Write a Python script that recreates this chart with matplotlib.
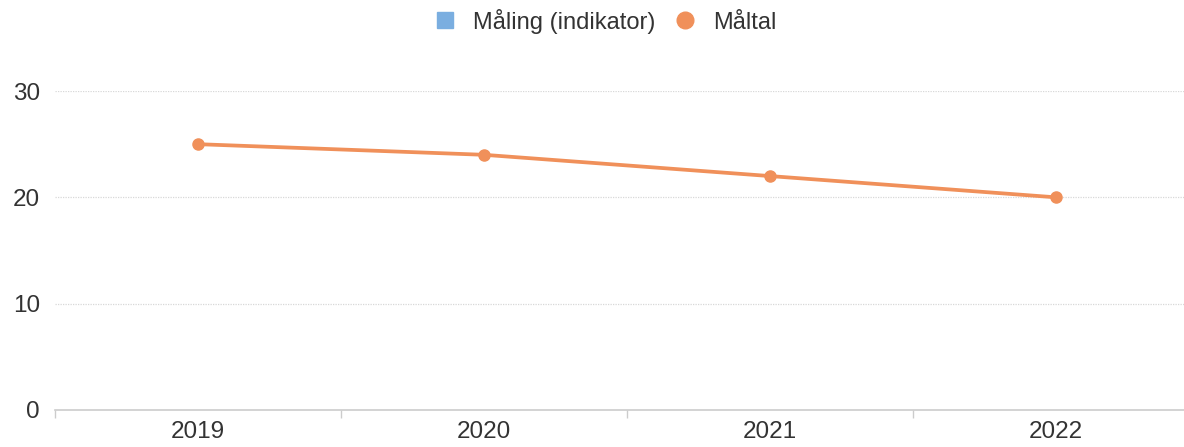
import matplotlib.pyplot as plt
from matplotlib.lines import Line2D

plt.rcParams['font.family'] = ['Liberation Sans', 'DejaVu Sans']

years = ["2019", "2020", "2021", "2022"]
maaltal = [25, 24, 22, 20]
maaling = []  # no values shown for the indicator
y_ticks = [0, 10, 20, 30]

blue = '#7aaee0'
orange = '#f0905a'

fig = plt.figure(figsize=(11.84, 4.47), dpi=100)
# plot area runs past the right edge of the picture, like the original
ax = fig.add_axes([0.0465, 0.0828, 0.9662, 0.7136])

x = list(range(len(years)))
ax.plot(x, maaltal, color=orange, lw=2.7, marker='o', ms=8, clip_on=False, zorder=3)

ax.set_xlim(-0.5, len(years) - 0.5)
ax.set_ylim(0, 30)
ax.set_yticks(y_ticks)
ax.set_xticks(x)
ax.set_xticklabels(years)
# category boundary ticks
ax.set_xticks([i + 0.5 for i in range(len(years) - 1)] + [-0.5], minor=True)
ax.tick_params(axis='x', which='major', length=0, pad=8, labelsize=17.5, labelcolor='#333333')
ax.tick_params(axis='x', which='minor', length=6, color='#cccccc', width=1)
ax.tick_params(axis='y', length=0, pad=11, labelsize=17.5, labelcolor='#333333')

for v in y_ticks[1:]:
    ax.axhline(v, color='#d8d8d8', lw=0.9, ls=(0, (1, 1)), zorder=1)

for s in ['top', 'right', 'left']:
    ax.spines[s].set_visible(False)
ax.spines['bottom'].set_color('#cccccc')
ax.spines['bottom'].set_linewidth(1.2)

handles = [
    Line2D([], [], color=blue, marker='s', ls='none', ms=11),
    Line2D([], [], color=orange, marker='o', ls='none', ms=12),
]
fig.legend(handles, ['Måling (indikator)', 'Måltal'], loc='upper center',
           bbox_to_anchor=(0.511, 1.028), ncol=2, frameon=False, fontsize=17,
           handlelength=1.0, handletextpad=0.7, columnspacing=0.75, labelcolor='#333333')

fig.savefig('out.png', dpi=100)
